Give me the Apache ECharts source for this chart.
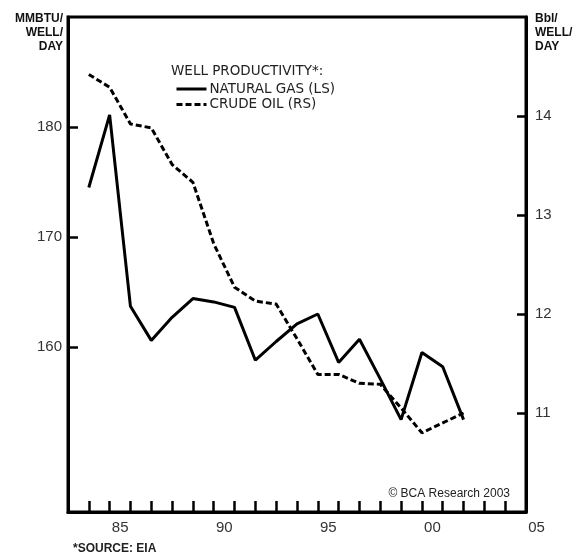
<!DOCTYPE html>
<html>
<head>
<meta charset="utf-8">
<script src="https://cdn.jsdelivr.net/npm/echarts@6/dist/echarts.min.js"></script>
<style>
html,body{margin:0;padding:0;background:#fff;}
#c{width:577px;height:555px;}
</style>
</head>
<body>
<div id="c"></div>
<script>
// ---- data ----
const years = [1984,1985,1986,1987,1988,1989,1990,1991,1992,1993,1994,1995,1996,1997,1998,1999,2000,2001,2002];
const naturalGas = [174.5,181.1,163.7,160.6,162.7,164.4,164.1,163.6,158.8,160.5,162.1,163.0,158.6,160.7,157.1,153.4,159.5,158.2,153.4];
const crudeOil = [14.42,14.29,13.92,13.88,13.51,13.33,12.71,12.27,12.13,12.10,11.75,11.39,11.39,11.30,11.29,11.05,10.80,10.90,11.00];
const leftTicks = [160,170,180];
const rightTicks = [11,12,13,14];
const xLabelYears = [1985,1990,1995,2000,2005];
const seriesNames = ['NATURAL GAS (LS)','CRUDE OIL (RS)'];

const FONT = '"Liberation Sans", Arial, sans-serif';
const LFONT = '"DejaVu Sans", "Liberation Sans", Arial, sans-serif';
const chart = echarts.init(document.getElementById('c'), null, {renderer:'canvas'});
chart.setOption({
  animation:false,
  backgroundColor:'#fff',
  grid:{left:68,right:51,top:17,bottom:43,show:true,borderColor:'#000',borderWidth:3,backgroundColor:'transparent'},
  legend:{
    orient:'vertical', left:170, top:77, itemWidth:30, itemHeight:12, itemGap:1.5,
    data:seriesNames,
    itemStyle:{opacity:0},
    lineStyle:{width:3},
    textStyle:{fontFamily:LFONT,fontSize:13.5,color:'#222',padding:[0,0,0,-2]},
    selectedMode:false
  },
  xAxis:{
    type:'value', min:1983, max:2005, interval:1,
    axisLine:{show:true,lineStyle:{color:'#000',width:3}},
    axisTick:{show:true,inside:true,length:11,lineStyle:{color:'#000',width:2.5}},
    splitLine:{show:false},
    axisLabel:{
      margin:8, fontFamily:FONT, fontSize:15, color:'#333',
      padding:[0,0,0,21], showMinLabel:true, showMaxLabel:true,
      formatter:function(v){ return xLabelYears.indexOf(v)>=0 ? String(v).slice(2) : ''; }
    }
  },
  yAxis:[
    {
      type:'value', position:'left', min:145, max:190, interval:5,
      axisLine:{show:true,lineStyle:{color:'#000',width:3}},
      axisTick:{show:true,inside:true,length:10,lineStyle:{color:'#000',width:2.5},customValues:leftTicks},
      axisLabel:{margin:6,fontFamily:FONT,fontSize:15,color:'#333',customValues:leftTicks},
      splitLine:{show:false}
    },
    {
      type:'value', position:'right', min:10, max:15, interval:1,
      axisLine:{show:true,lineStyle:{color:'#000',width:3}},
      axisTick:{show:true,inside:true,length:9,lineStyle:{color:'#000',width:2.5},customValues:rightTicks},
      axisLabel:{margin:9,fontFamily:FONT,fontSize:15,color:'#333',customValues:rightTicks},
      splitLine:{show:false}
    }
  ],
  series:[
    {
      name:seriesNames[0], type:'line', yAxisIndex:0, symbol:'none',
      data: years.map((y,i)=>[y,naturalGas[i]]),
      lineStyle:{color:'#000',width:3,type:'solid'},
      itemStyle:{color:'#000'}
    },
    {
      name:seriesNames[1], type:'line', yAxisIndex:1, symbol:'none',
      data: years.map((y,i)=>[y,crudeOil[i]]),
      lineStyle:{color:'#000',width:3,type:[6,3]},
      itemStyle:{color:'#000'}
    }
  ],
  graphic:[
    {type:'text',left:171,top:64,style:{text:'WELL PRODUCTIVITY*:',font:'13.5px '+LFONT,fill:'#222'}},
    {type:'text',x:63,y:12,style:{text:'MMBTU/\nWELL/\nDAY',font:'bold 12px '+FONT,fill:'#111',align:'right',lineHeight:14}},
    {type:'text',x:535,y:12,style:{text:'Bbl/\nWELL/\nDAY',font:'bold 12px '+FONT,fill:'#111',align:'left',lineHeight:14}},
    {type:'text',x:510,y:494,style:{text:'\u00a9 BCA Research 2003',font:'12px '+FONT,fill:'#222',align:'right',verticalAlign:'middle'}},
    {type:'text',x:73,y:549,style:{text:'*SOURCE: EIA',font:'bold 12px '+FONT,fill:'#222',align:'left',verticalAlign:'middle'}}
  ]
});
</script>
</body>
</html>
